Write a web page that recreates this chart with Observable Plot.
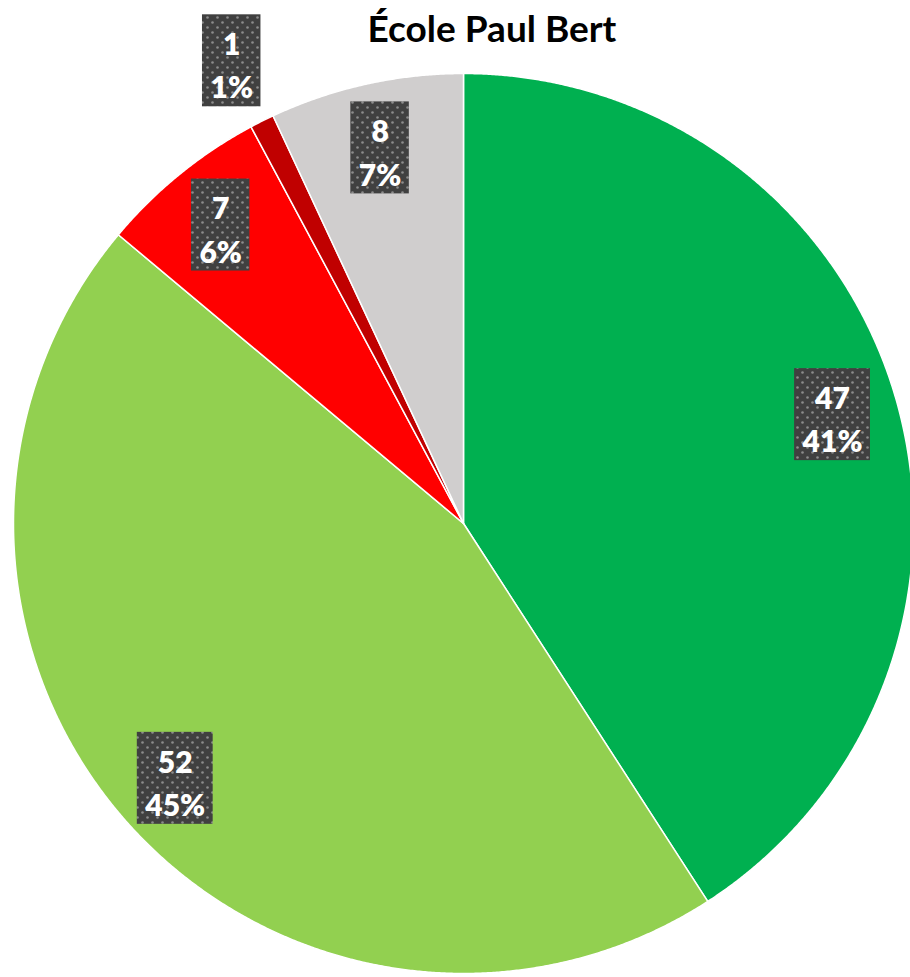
<!DOCTYPE html>
<html>
<head>
<meta charset="utf-8">
<script src="https://cdn.jsdelivr.net/npm/d3@7"></script>
<script src="https://cdn.jsdelivr.net/npm/@observablehq/plot@0.6"></script>
<style>
  html, body { margin: 0; padding: 0; background: #fff; overflow: hidden; }
  #title { width: 910px; height: 60px; box-sizing: border-box; padding-top: 9px; padding-left: 74px;
    text-align: center; font-family: Lato, "Open Sans", sans-serif; font-weight: bold; font-size: 37px; line-height: 37px; color: #000; }
  #chart svg { display: block; overflow: visible; }
</style>
</head>
<body>
<div id="title">École Paul Bert</div>
<div id="chart"></div>
<script>
const categories = ["Catégorie 1", "Catégorie 2", "Catégorie 3", "Catégorie 4", "Catégorie 5"];
const values = [47, 52, 7, 1, 8];
const colors = ["#00B050", "#92D050", "#FF0000", "#C00000", "#D0CECE"];

const total = d3.sum(values);
const arcs = d3.pie().sort(null).value(d => d)(values);
const slices = arcs.map((a, i) => ({
  name: categories[i], value: values[i], share: values[i] / total,
  a0: a.startAngle, a1: a.endAngle
}));

// polygon points of each slice (unit circle, clockwise from 12 o'clock)
const points = slices.flatMap(s => {
  const n = Math.max(2, Math.ceil((s.a1 - s.a0) / 0.004));
  const pts = [{name: s.name, x: 0, y: 0}];
  for (let k = 0; k <= n; k++) {
    const t = s.a0 + (s.a1 - s.a0) * k / n;
    pts.push({name: s.name, x: Math.sin(t), y: Math.cos(t)});
  }
  return pts;
});

const fontSize = 30;
const ctx = document.createElement("canvas").getContext("2d");
ctx.font = `800 ${fontSize}px Lato`;
const R = 450; // pixels per data unit (pie radius)
const labels = slices.map(s => {
  const mid = (s.a0 + s.a1) / 2;
  const r = s.share < 0.02 ? 1.15 : 0.855;
  const l1 = String(s.value), l2 = Math.round(s.share * 100) + "%";
  const w = Math.max(ctx.measureText(l1).width, ctx.measureText(l2).width) + 16;
  const cx = r * Math.sin(mid), cy = r * Math.cos(mid);
  return {
    text: l1 + "\n" + l2, x: cx, y: cy,
    x1: cx - w / 2 / R, x2: cx + w / 2 / R,
    y1: cy - 46 / R, y2: cy + 46 / R
  };
});

const plot = Plot.plot({
  width: 910, height: 917,
  margin: 0,
  style: {overflow: "visible", background: "transparent"},
  x: {domain: [-1, 1], range: [13, 913], axis: null},
  y: {domain: [-1, 1], range: [913, 13], axis: null},
  color: {domain: categories, range: colors},
  marks: [
    Plot.line(points, {x: "x", y: "y", z: "name", fill: "name", stroke: "white", strokeWidth: 1.5, curve: "linear-closed"}),
    Plot.rect(labels, {x1: "x1", x2: "x2", y1: "y1", y2: "y2", fill: "url(#dots)"}),
    Plot.text(labels, {x: "x", y: "y", text: "text", fill: "white", fontSize: fontSize, fontWeight: 800,
      fontFamily: "Lato, 'Open Sans', sans-serif", lineHeight: 1.45, dy: 2})
  ]
});

const ns = "http://www.w3.org/2000/svg";
const defs = document.createElementNS(ns, "defs");
defs.innerHTML = `<pattern id="dots" width="10" height="10" patternUnits="userSpaceOnUse">
  <rect width="10" height="10" fill="#404040"/>
  <circle cx="2.5" cy="2.5" r="1.3" fill="#8c8c8c"/>
  <circle cx="7.5" cy="7.5" r="1.3" fill="#8c8c8c"/>
</pattern>`;
plot.insertBefore(defs, plot.firstChild);
document.getElementById("chart").appendChild(plot);
</script>
</body>
</html>
